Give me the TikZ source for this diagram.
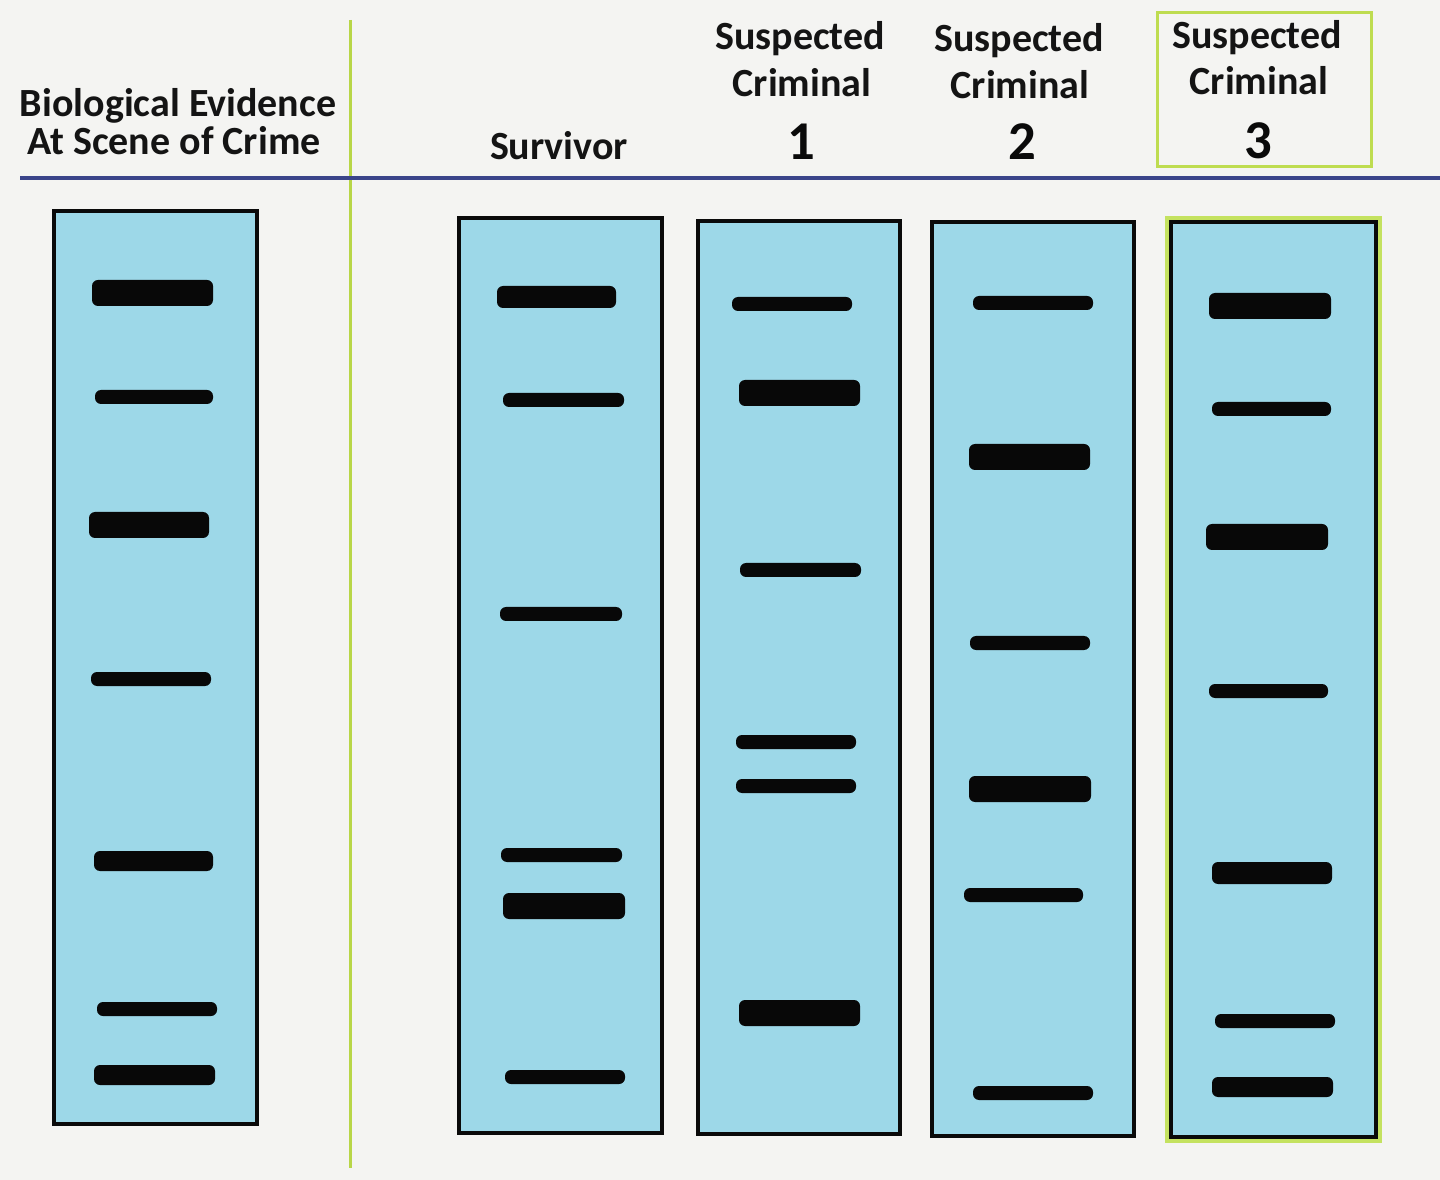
\documentclass[tikz,border=0pt]{standalone}
\usepackage{fontspec}
\setmainfont{Carlito}
\begin{document}
\begin{tikzpicture}[x=0.75pt,y=0.75pt,yscale=-1,xscale=1,
  lane/.style={fill={rgb, 255:red, 157; green, 216; blue, 232 },draw={rgb, 255:red, 10; green, 10; blue, 10 },line width=3},
  band/.style={fill={rgb, 255:red, 8; green, 8; blue, 8 },draw opacity=0,rounded corners=4.5},
  head/.style={inner sep=0.75pt,anchor=base,font=\bfseries\fontsize{30}{36}\selectfont,text={rgb, 255:red, 20; green, 20; blue, 20 }},
  num/.style={inner sep=0.75pt,anchor=base,font=\bfseries\fontsize{41}{48}\selectfont,text={rgb, 255:red, 10; green, 10; blue, 10 }}]
%set diagram size to 1440 x 1180
\useasboundingbox (0,0) rectangle (1440,1180);
\fill [color={rgb, 255:red, 244; green, 244; blue, 242 }] (0,0) rectangle (1440,1180);

%Straight Lines [id:divider]
\draw [color={rgb, 255:red, 184; green, 214; blue, 72 }  ,draw opacity=1 ][line width=2.25]    (350,20) -- (350,1168) ;
%Straight Lines [id:headline]
\draw [color={rgb, 255:red, 58; green, 68; blue, 138 }  ,draw opacity=1 ][line width=3]    (20,178) -- (1440,178) ;
%Shape: Rectangle [id:suspect3box]
\draw [color={rgb, 255:red, 190; green, 220; blue, 80 }  ,draw opacity=1 ][line width=2.25]  (1157,13) rectangle (1371,167) ;

%Shape: Rectangle [id:lane1]
\draw [lane]  (54,211) rectangle (257,1124) ;
%Shape: Rectangle [id:lane2]
\draw [lane]  (459,218) rectangle (662,1133) ;
%Shape: Rectangle [id:lane3]
\draw [lane]  (698,221) rectangle (900,1134) ;
%Shape: Rectangle [id:lane4]
\draw [lane]  (932,222) rectangle (1134,1136) ;
%Shape: Rectangle [id:lane5]
\draw [color={rgb, 255:red, 196; green, 226; blue, 96 }  ,draw opacity=1 ][line width=3.5]  (1167,218) rectangle (1380,1141) ;
\draw [lane]  (1171,222) rectangle (1376,1137) ;

%Bands lane 1 (evidence)
\draw [band] (92,280) rectangle (213,306) ;
\draw [band] (95,390) rectangle (213,404) ;
\draw [band] (89,512) rectangle (209,538) ;
\draw [band] (91,672) rectangle (211,686) ;
\draw [band] (94,851) rectangle (213,871) ;
\draw [band] (97,1002) rectangle (217,1016) ;
\draw [band] (94,1065) rectangle (215,1085) ;
%Bands lane 2 (survivor)
\draw [band] (497,286) rectangle (616,308) ;
\draw [band] (503,393) rectangle (624,407) ;
\draw [band] (500,607) rectangle (622,621) ;
\draw [band] (501,848) rectangle (622,862) ;
\draw [band] (503,893) rectangle (625,919) ;
\draw [band] (505,1070) rectangle (625,1084) ;
%Bands lane 3 (suspect 1)
\draw [band] (732,297) rectangle (852,311) ;
\draw [band] (739,380) rectangle (860,406) ;
\draw [band] (740,563) rectangle (861,577) ;
\draw [band] (736,735) rectangle (856,749) ;
\draw [band] (736,779) rectangle (856,793) ;
\draw [band] (739,1000) rectangle (860,1026) ;
%Bands lane 4 (suspect 2)
\draw [band] (973,296) rectangle (1093,310) ;
\draw [band] (969,444) rectangle (1090,470) ;
\draw [band] (970,636) rectangle (1090,650) ;
\draw [band] (969,776) rectangle (1091,802) ;
\draw [band] (964,888) rectangle (1083,902) ;
\draw [band] (973,1086) rectangle (1093,1100) ;
%Bands lane 5 (suspect 3)
\draw [band] (1209,293) rectangle (1331,319) ;
\draw [band] (1212,402) rectangle (1331,416) ;
\draw [band] (1206,524) rectangle (1328,550) ;
\draw [band] (1209,684) rectangle (1328,698) ;
\draw [band] (1212,862) rectangle (1332,884) ;
\draw [band] (1215,1014) rectangle (1335,1028) ;
\draw [band] (1212,1077) rectangle (1333,1097) ;

% Text Node
\draw (178,117) node (evidTop) [head] {Biological Evidence};
% Text Node
\draw (174,155) node (evidBot) [head] {At Scene of Crime};
% Text Node
\draw (559,160) node (survLbl) [head] {Survivor};
% Text Node
\draw (800,50) node (susOneA) [head] {Suspected};
\draw (802,97) node (susOneB) [head] {Criminal};
\draw (801,160) node (susOneN) [num] {1};
% Text Node
\draw (1019,52) node (susTwoA) [head] {Suspected};
\draw (1020,99) node (susTwoB) [head] {Criminal};
\draw (1022,160) node (susTwoN) [num] {2};
% Text Node
\draw (1257,49) node (susThrA) [head] {Suspected};
\draw (1259,95) node (susThrB) [head] {Criminal};
\draw (1258,159) node (susThrN) [num] {3};

\end{tikzpicture}
\end{document}
